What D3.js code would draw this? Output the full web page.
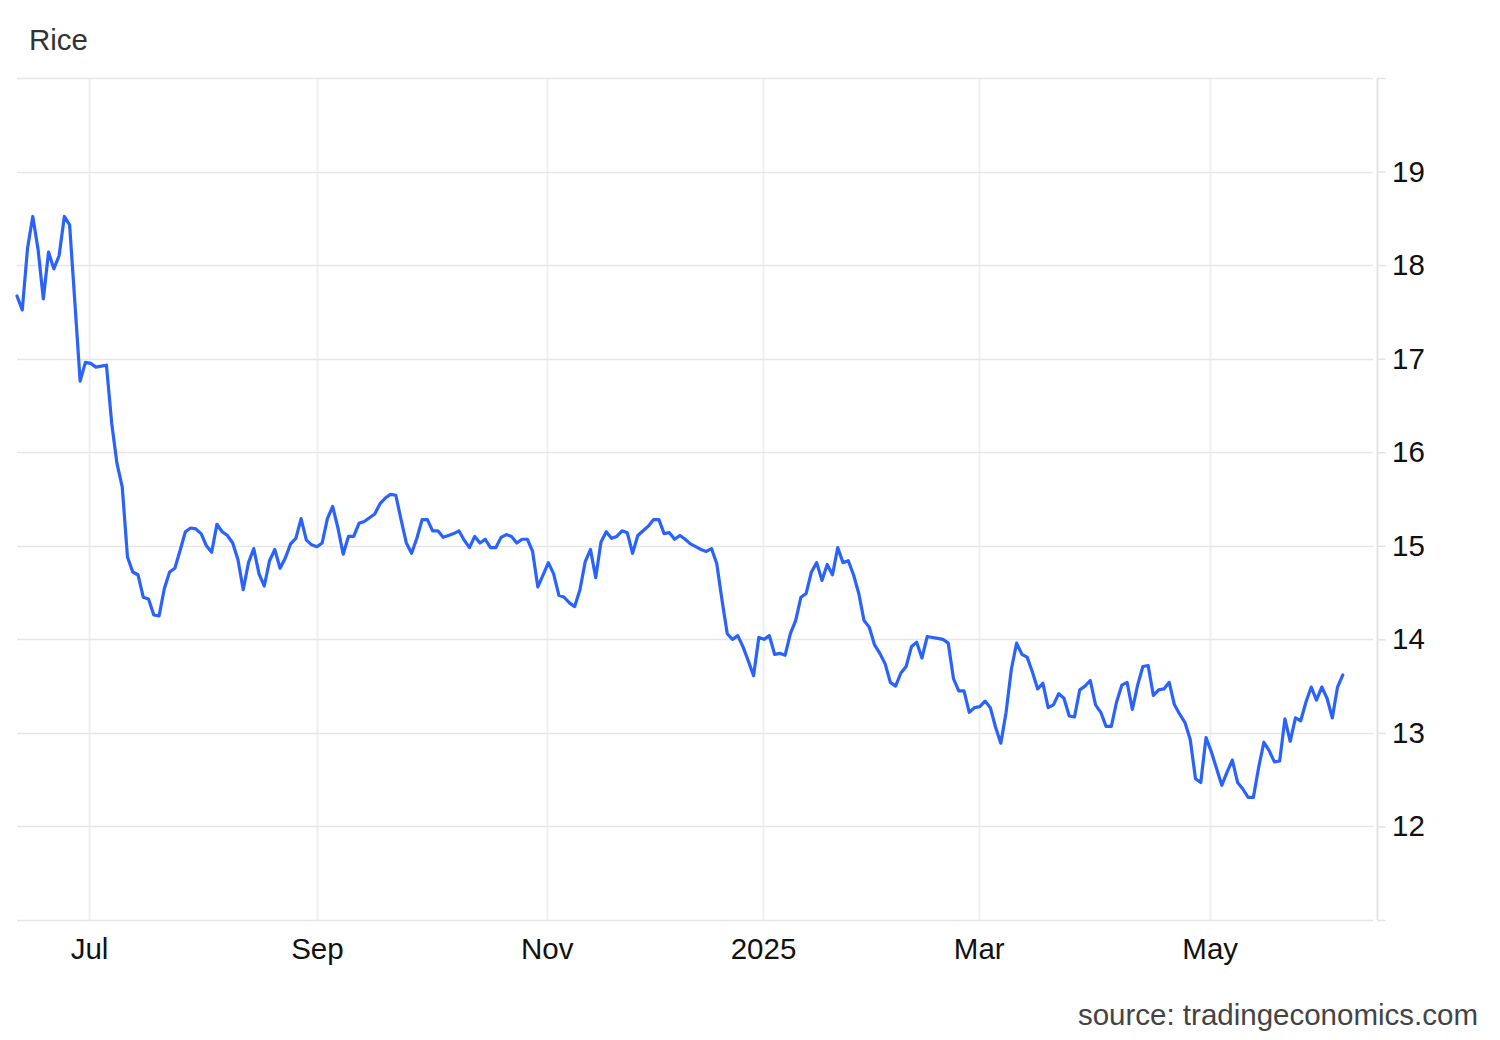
<!DOCTYPE html>
<html>
<head>
<meta charset="utf-8">
<script src="https://cdn.jsdelivr.net/npm/d3@7"></script>
<style>
  html, body { margin: 0; padding: 0; background: #fff; }
  svg { display: block; font-family: "Liberation Sans", Arial, Helvetica, sans-serif; }
</style>
</head>
<body>
<svg id="chart" width="1500" height="1040"></svg>
<script>
// ---- data ----
const title = "Rice";
const source = "source: tradingeconomics.com";

// daily closes (USD/cwt), mid-June 2024 to early June 2025
const riceValues = [
  17.67, 17.52, 18.18, 18.52, 18.17, 17.64, 18.14, 17.96, 18.10, 18.52,
  18.43, 17.60, 16.76, 16.96, 16.95, 16.91, 16.92, 16.93, 16.31, 15.88,
  15.63, 14.88, 14.72, 14.69, 14.45, 14.43, 14.26, 14.25, 14.54, 14.72,
  14.76, 14.95, 15.15, 15.19, 15.18, 15.13, 15.00, 14.93, 15.23, 15.15,
  15.11, 15.03, 14.85, 14.53,
  14.82, 14.97, 14.70, 14.57, 14.84, 14.96, 14.76, 14.87, 15.02, 15.08,
  15.29, 15.06, 15.01, 14.99, 15.03, 15.29, 15.42, 15.19, 14.91, 15.10,
  15.10, 15.24, 15.26, 15.30, 15.34, 15.45, 15.51, 15.55, 15.54, 15.28,
  15.03, 14.92, 15.08, 15.28, 15.28, 15.16, 15.16, 15.09, 15.11, 15.13,
  15.16, 15.06, 14.98, 15.10, 15.03, 15.07, 14.98,
  14.98, 15.09, 15.12, 15.10, 15.03, 15.07, 15.07, 14.94, 14.56, 14.69,
  14.82, 14.70, 14.47, 14.45, 14.39, 14.35, 14.53, 14.83, 14.96, 14.66,
  15.04, 15.15, 15.08, 15.10, 15.16, 15.14, 14.92, 15.11, 15.16, 15.21,
  15.28, 15.28, 15.13, 15.14, 15.07, 15.11, 15.07, 15.02, 14.99, 14.96,
  14.94, 14.97, 14.81,
  14.42, 14.06, 14.00, 14.04, 13.92, 13.77, 13.61, 14.02, 14.00, 14.04,
  13.84, 13.85, 13.83, 14.06, 14.20, 14.45, 14.49, 14.72, 14.82, 14.63,
  14.80, 14.69, 14.98, 14.82, 14.84, 14.69, 14.49, 14.20, 14.13, 13.94,
  13.85, 13.74, 13.54, 13.50, 13.64, 13.71, 13.92, 13.97, 13.80, 14.03,
  14.02, 14.01, 14.00, 13.96,
  13.58, 13.45, 13.45, 13.22, 13.27, 13.28, 13.34, 13.27, 13.06, 12.89,
  13.22, 13.68, 13.96, 13.84, 13.81, 13.65, 13.47, 13.53, 13.27, 13.30,
  13.42, 13.37, 13.18, 13.17, 13.46, 13.50, 13.56, 13.30, 13.22, 13.07,
  13.07, 13.33, 13.51, 13.54, 13.25, 13.51, 13.71, 13.72, 13.40, 13.46,
  13.47, 13.54, 13.30, 13.20, 13.11,
  12.93, 12.51, 12.47, 12.95, 12.80, 12.62, 12.44, 12.58, 12.71, 12.47,
  12.40, 12.31, 12.31, 12.63, 12.90, 12.81, 12.69, 12.70, 13.15, 12.91,
  13.16, 13.13, 13.33, 13.49, 13.35, 13.49, 13.37, 13.16, 13.49, 13.62
];

// x-axis month labels and where each month starts in the trading-day series
const monthLabels = ["Jul", "Sep", "Nov", "2025", "Mar", "May"];
const monthStartIndex = [13.7, 57.0, 100.7, 141.8, 182.8, 226.7];

// y-axis
const yTicks = [11, 12, 13, 14, 15, 16, 17, 18, 19, 20];
const yTickLabels = ["", "12", "13", "14", "15", "16", "17", "18", "19", ""];

// ---- drawing ----
const svg = d3.select("#chart");
const plot = { left: 17, right: 1377, top: 78, bottom: 920 };
const fontSize = 29.5;

const x = d3.scaleLinear().domain([0, 258.5]).range([plot.left, plot.right]);
const y = d3.scaleLinear().domain([11, 20]).range([plot.bottom, plot.top]);

// vertical month gridlines
svg.append("g").selectAll("line")
  .data(monthStartIndex)
  .join("line")
  .attr("x1", d => Math.round(x(d)) + 0.5)
  .attr("x2", d => Math.round(x(d)) + 0.5)
  .attr("y1", plot.top)
  .attr("y2", plot.bottom)
  .attr("stroke", "#edf0f4")
  .attr("stroke-width", 2);

// horizontal gridlines
svg.append("g").selectAll("line")
  .data(yTicks)
  .join("line")
  .attr("x1", plot.left)
  .attr("x2", plot.right - 4)
  .attr("y1", d => Math.round(y(d)) + 0.5)
  .attr("y2", d => Math.round(y(d)) + 0.5)
  .attr("stroke", "#e6e6e6")
  .attr("stroke-width", 1.5);

// right axis
const yAxis = d3.axisRight(y)
  .tickValues(yTicks)
  .tickSize(8)
  .tickPadding(6.5)
  .tickFormat((d, i) => yTickLabels[i]);
const gy = svg.append("g")
  .attr("transform", `translate(${plot.right + 0.5},0)`)
  .call(yAxis);
gy.select(".domain").remove();
gy.append("line")
  .attr("x1", 0).attr("x2", 0)
  .attr("y1", plot.top).attr("y2", plot.bottom)
  .attr("stroke", "#e3e3e3").attr("stroke-width", 2);
gy.selectAll(".tick line").attr("stroke", "#e3e3e3").attr("stroke-width", 1.5);
gy.selectAll(".tick text")
  .attr("fill", "#111")
  .attr("font-size", fontSize)
  .attr("font-family", "'Liberation Sans', Arial, sans-serif");

// bottom axis labels
const xAxis = d3.axisBottom(x)
  .tickValues(monthStartIndex)
  .tickSize(0)
  .tickPadding(18)
  .tickFormat((d, i) => monthLabels[i]);
const gx = svg.append("g")
  .attr("transform", `translate(0,${plot.bottom})`)
  .call(xAxis);
gx.select(".domain").remove();
gx.selectAll(".tick text")
  .attr("fill", "#111")
  .attr("font-size", fontSize)
  .attr("font-family", "'Liberation Sans', Arial, sans-serif");

// line
const line = d3.line()
  .x((d, i) => x(i))
  .y(d => y(d));
svg.append("path")
  .datum(riceValues)
  .attr("d", line)
  .attr("fill", "none")
  .attr("stroke", "#2962ff")
  .attr("stroke-width", 3.2)
  .attr("stroke-linejoin", "round")
  .attr("stroke-linecap", "round");

// title
svg.append("text")
  .attr("x", 29).attr("y", 50)
  .attr("font-size", fontSize)
  .attr("fill", "#333")
  .text(title);

// source
svg.append("text")
  .attr("x", 1478).attr("y", 1025)
  .attr("text-anchor", "end")
  .attr("font-size", fontSize)
  .attr("fill", "#444")
  .text(source);
</script>
</body>
</html>
